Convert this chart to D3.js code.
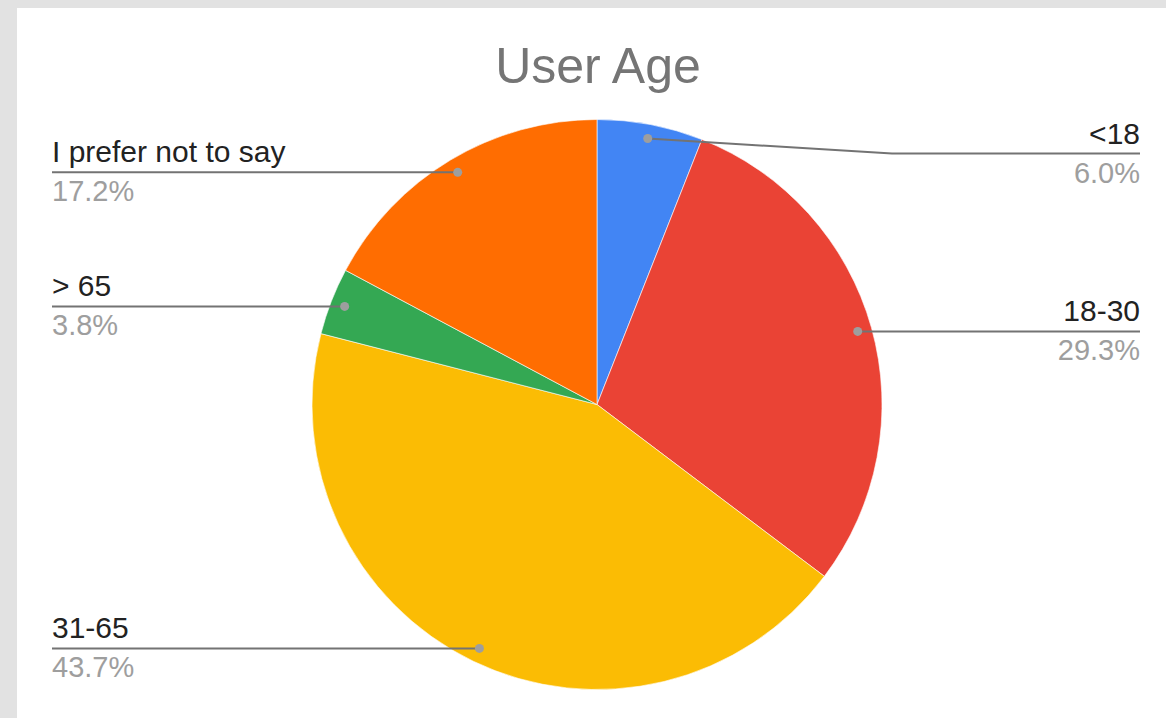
<!DOCTYPE html>
<html>
<head>
<meta charset="utf-8">
<script src="https://cdn.jsdelivr.net/npm/d3@7"></script>
<style>
  html, body { margin: 0; padding: 0; background: #e2e2e2; }
  svg { display: block; }
  text { font-family: Arial, "Liberation Sans", sans-serif; }
</style>
</head>
<body>
<svg id="chart" width="1166" height="718"></svg>
<script>
// Survey answers: age groups and their share of respondents (%)
const categories = ["<18", "18-30", "31-65", "> 65", "I prefer not to say"];
const shares = [6.0, 29.3, 43.7, 3.8, 17.2];
const sliceColors = ["#4285f4", "#ea4335", "#fbbc04", "#34a853", "#ff6d01"];
const chartTitle = "User Age";

const W = 1166, H = 718;
const svg = d3.select("#chart");

// white card on a light gray page
svg.append("rect").attr("x", 17).attr("y", 8).attr("width", W - 17).attr("height", H - 8).attr("fill", "#ffffff");

svg.append("text")
  .attr("x", 598).attr("y", 83)
  .attr("text-anchor", "middle")
  .attr("font-size", 50)
  .attr("fill", "#757575")
  .text(chartTitle);

const cx = 597, cy = 404.5, R = 285;
const data = categories.map((c, i) => ({ name: c, value: shares[i], color: sliceColors[i] }));

const pie = d3.pie().value(d => d.value).sort(null);
const arcs = pie(data);
const arc = d3.arc().innerRadius(0).outerRadius(R);
const dotArc = d3.arc().innerRadius(R * 0.95).outerRadius(R * 0.95);

const g = svg.append("g").attr("transform", `translate(${cx},${cy})`);
g.selectAll("path.slice")
  .data(arcs)
  .enter().append("path")
  .attr("class", "slice")
  .attr("d", arc)
  .attr("fill", d => d.data.color)
  .attr("stroke", "#ffffff")
  .attr("stroke-width", 0.6);

// leader lines and labels
const leftX = 52, rightX = 1140, minLineY = 153.5;
const labels = svg.append("g");
arcs.forEach(a => {
  const [dx, dy] = dotArc.centroid(a);
  const px = cx + dx, py = cy + dy;
  const mid = (a.startAngle + a.endAngle) / 2;
  const right = mid < Math.PI;
  const lineY = Math.max(py, minLineY);
  let pts;
  if (right) {
    const kneeX = cx + R + 10;
    pts = lineY > py + 0.5 ? [[px, py], [kneeX, lineY], [rightX, lineY]] : [[px, py], [rightX, lineY]];
  } else {
    pts = [[px, py], [leftX, lineY]];
  }
  labels.append("path")
    .attr("d", d3.line()(pts))
    .attr("fill", "none")
    .attr("stroke", "#737373")
    .attr("stroke-width", 2);
  labels.append("circle")
    .attr("cx", px).attr("cy", py).attr("r", 4.5)
    .attr("fill", "#9e9e9e");
  const tx = right ? rightX : leftX;
  const anchor = right ? "end" : "start";
  labels.append("text")
    .attr("x", tx).attr("y", lineY - 10)
    .attr("text-anchor", anchor)
    .attr("font-size", 30)
    .attr("fill", "#222222")
    .text(a.data.name);
  labels.append("text")
    .attr("x", tx).attr("y", lineY + 29)
    .attr("text-anchor", anchor)
    .attr("font-size", 29)
    .attr("fill", "#9e9e9e")
    .text(a.data.value.toFixed(1) + "%");
});
</script>
</body>
</html>
